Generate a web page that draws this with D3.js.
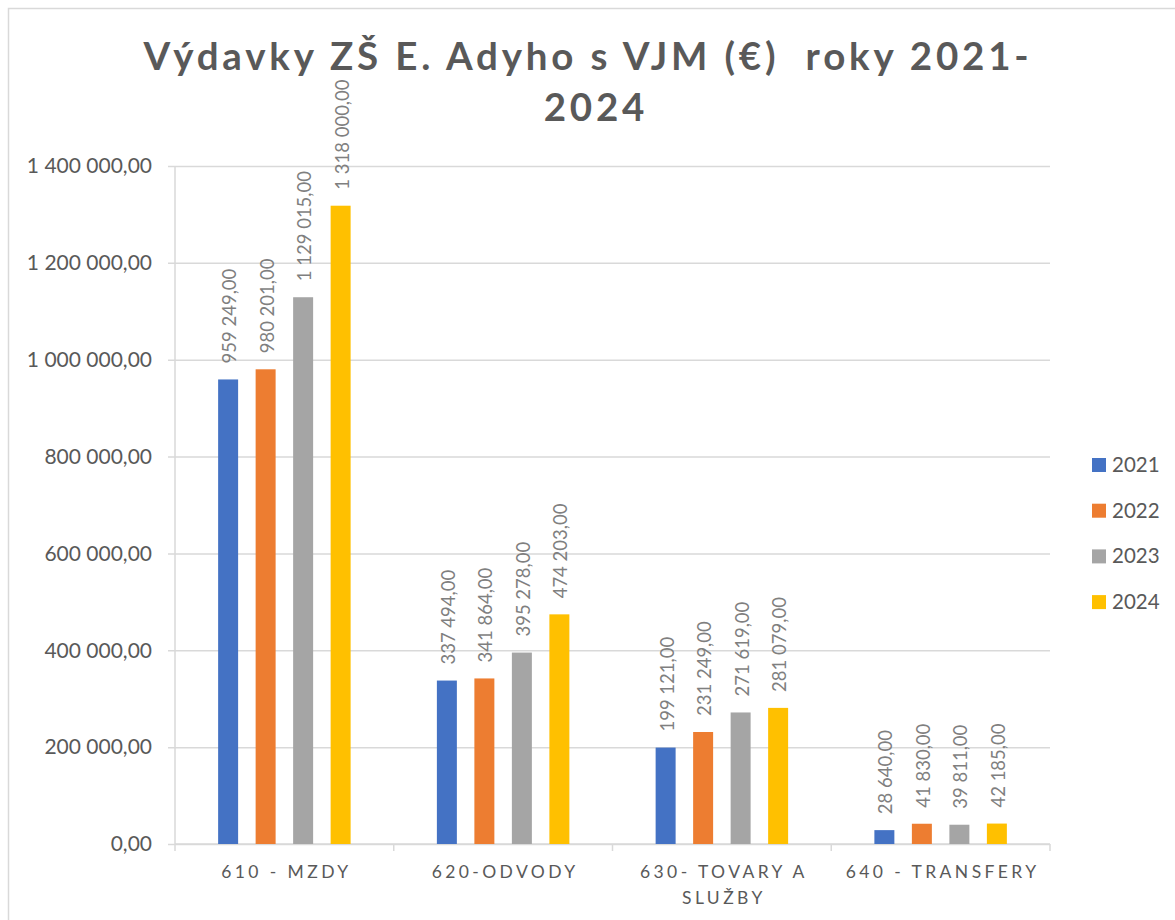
<!DOCTYPE html>
<html>
<head>
<meta charset="utf-8">
<script src="https://cdn.jsdelivr.net/npm/d3@7"></script>
<style>
  body { margin: 0; background: #fff; }
  #svg-container { width: 1175px; height: 920px; }
  text { font-family: Lato, "Open Sans", sans-serif; }
</style>
</head>
<body>
<div id="svg-container"></div>
<script>
// data
const categories = ['610 - MZDY', '620-ODVODY', '630- TOVARY A SLUŽBY', '640 - TRANSFERY']
const years = ['2021', '2022', '2023', '2024']
const values2021 = [959249, 337494, 199121, 28640]
const values2022 = [980201, 341864, 231249, 41830]
const values2023 = [1129015, 395278, 271619, 39811]
const values2024 = [1318000, 474203, 281079, 42185]
const yTicks = [0, 200000, 400000, 600000, 800000, 1000000, 1200000, 1400000]
const colors = ['#4472c4', '#ed7d31', '#a5a5a5', '#ffc000']

const series = [values2021, values2022, values2023, values2024]
//tabel per categorie
const data = categories.map((c, i) => ({
    category: c,
    values: years.map((y, j) => ({ year: y, value: series[j][i] }))
}))

const width = 1175
const height = 920
const margin = { top: 166, right: 125, bottom: 76, left: 175 }
const innerWidth = width - margin.left - margin.right
const innerHeight = height - margin.top - margin.bottom

const sk = d3.formatLocale({ decimal: ',', thousands: ' ', grouping: [3], currency: ['', ' €'] })
const fmt = sk.format(',.2f')

const svg = d3.select('#svg-container').append('svg')
    .attr('width', width).attr('height', height)

//rand van de grafiek
svg.append('path')
    .attr('d', `M${width},8.5 H8.5 V${height}`)
    .attr('fill', 'none').attr('stroke', '#d9d9d9').attr('stroke-width', 1.5)

//titel
const title = svg.append('text')
    .attr('text-anchor', 'middle')
    .attr('fill', '#595959')
    .style('font-size', '38.5px')
    .style('font-weight', 'bold')
    .style('letter-spacing', '3.8px')
    .style('white-space', 'pre')
title.append('tspan').attr('x', 588).attr('y', 70).text('Výdavky ZŠ E. Adyho s VJM (€)  roky 2021-')
title.append('tspan').attr('x', 596).attr('y', 121).text('2024')

const x0 = d3.scaleBand()
    .domain(categories)
    .range([0, innerWidth])

const x1 = d3.scaleBand()
    .domain(years)
    .range([0, x0.bandwidth()])
    .paddingInner(0.467)
    .paddingOuter(1.15)

const yScale = d3.scaleLinear()
    .domain([0, 1400000])
    .range([innerHeight, 0])

const g = svg.append('g')
    .attr('transform', `translate(${margin.left}, ${margin.top})`)

//y as met rasterlijnen
const yAxis = g.append('g')
    .attr('transform', 'translate(-7, 0)')
    .call(d3.axisLeft(yScale).tickValues(yTicks).tickFormat(fmt)
        .tickSize(-(innerWidth + 7)).tickPadding(16))
yAxis.select('.domain').remove()
yAxis.selectAll('line').attr('stroke', '#d9d9d9').attr('stroke-width', 1.5)
yAxis.selectAll('text').attr('fill', '#595959').style('font-size', '21px')

//verticale aslijn
g.append('line')
    .attr('x1', 0).attr('x2', 0)
    .attr('y1', yScale(1400000)).attr('y2', yScale(0))
    .attr('stroke', '#d9d9d9').attr('stroke-width', 1.5)

//x as
g.append('line')
    .attr('x1', 0).attr('x2', innerWidth)
    .attr('y1', yScale(0)).attr('y2', yScale(0))
    .attr('stroke', '#d9d9d9').attr('stroke-width', 1.5)
const boundaries = categories.map(c => x0(c)).concat([x0.range()[1]])
g.selectAll('.xtick').data(boundaries)
    .enter().append('line')
    .attr('class', 'xtick')
    .attr('x1', d => d).attr('x2', d => d)
    .attr('y1', yScale(0)).attr('y2', yScale(0) + 7)
    .attr('stroke', '#d9d9d9').attr('stroke-width', 1.5)

//categorie labels met woordafbreking
const xLabels = g.selectAll('.xlabel').data(categories)
    .enter().append('text')
    .attr('class', 'xlabel')
    .attr('text-anchor', 'middle')
    .attr('fill', '#595959')
    .style('font-size', '17.5px')
    .style('letter-spacing', '3.4px')
    .attr('transform', d => `translate(${x0(d) + x0.bandwidth() / 2 + 2}, ${innerHeight + 34})`)
xLabels.each(function (d) {
    const el = d3.select(this)
    const words = d.split(' ')
    let line = []
    let lineNo = 0
    let tspan = el.append('tspan').attr('x', 0).attr('y', 0)
    words.forEach(w => {
        line.push(w)
        tspan.text(line.join(' '))
        if (tspan.node().getComputedTextLength() > 210 && line.length > 1) {
            line.pop()
            tspan.text(line.join(' '))
            line = [w]
            lineNo++
            tspan = el.append('tspan').attr('x', 0).attr('y', lineNo * 26).text(w)
        }
    })
})

//staven
const groups = g.selectAll('.group').data(data)
    .enter().append('g')
    .attr('class', 'group')
    .attr('transform', d => `translate(${x0(d.category)}, 0)`)

groups.selectAll('rect').data(d => d.values)
    .enter().append('rect')
    .attr('x', d => x1(d.year))
    .attr('y', d => yScale(d.value))
    .attr('width', x1.bandwidth())
    .attr('height', d => innerHeight - yScale(d.value))
    .attr('fill', (d, i) => colors[i])

//waarde labels, gedraaid
groups.selectAll('.vlabel').data(d => d.values)
    .enter().append('text')
    .attr('class', 'vlabel')
    .attr('transform', d => `translate(${x1(d.year) + x1.bandwidth() / 2 + 1}, ${yScale(d.value) - 16}) rotate(-90)`)
    .attr('dominant-baseline', 'central')
    .attr('fill', '#7f7f7f')
    .style('font-size', '18.5px')
    .text(d => fmt(d.value))

//legenda
const legend = svg.append('g')
    .attr('transform', 'translate(1092, 458)')
const items = legend.selectAll('g').data(years)
    .enter().append('g')
    .attr('transform', (d, i) => `translate(0, ${i * 45.7})`)
items.append('rect')
    .attr('width', 14).attr('height', 14)
    .attr('fill', (d, i) => colors[i])
items.append('text')
    .attr('x', 20).attr('y', 14)
    .attr('fill', '#595959')
    .style('font-size', '20.5px')
    .text(d => d)
</script>
</body>
</html>
